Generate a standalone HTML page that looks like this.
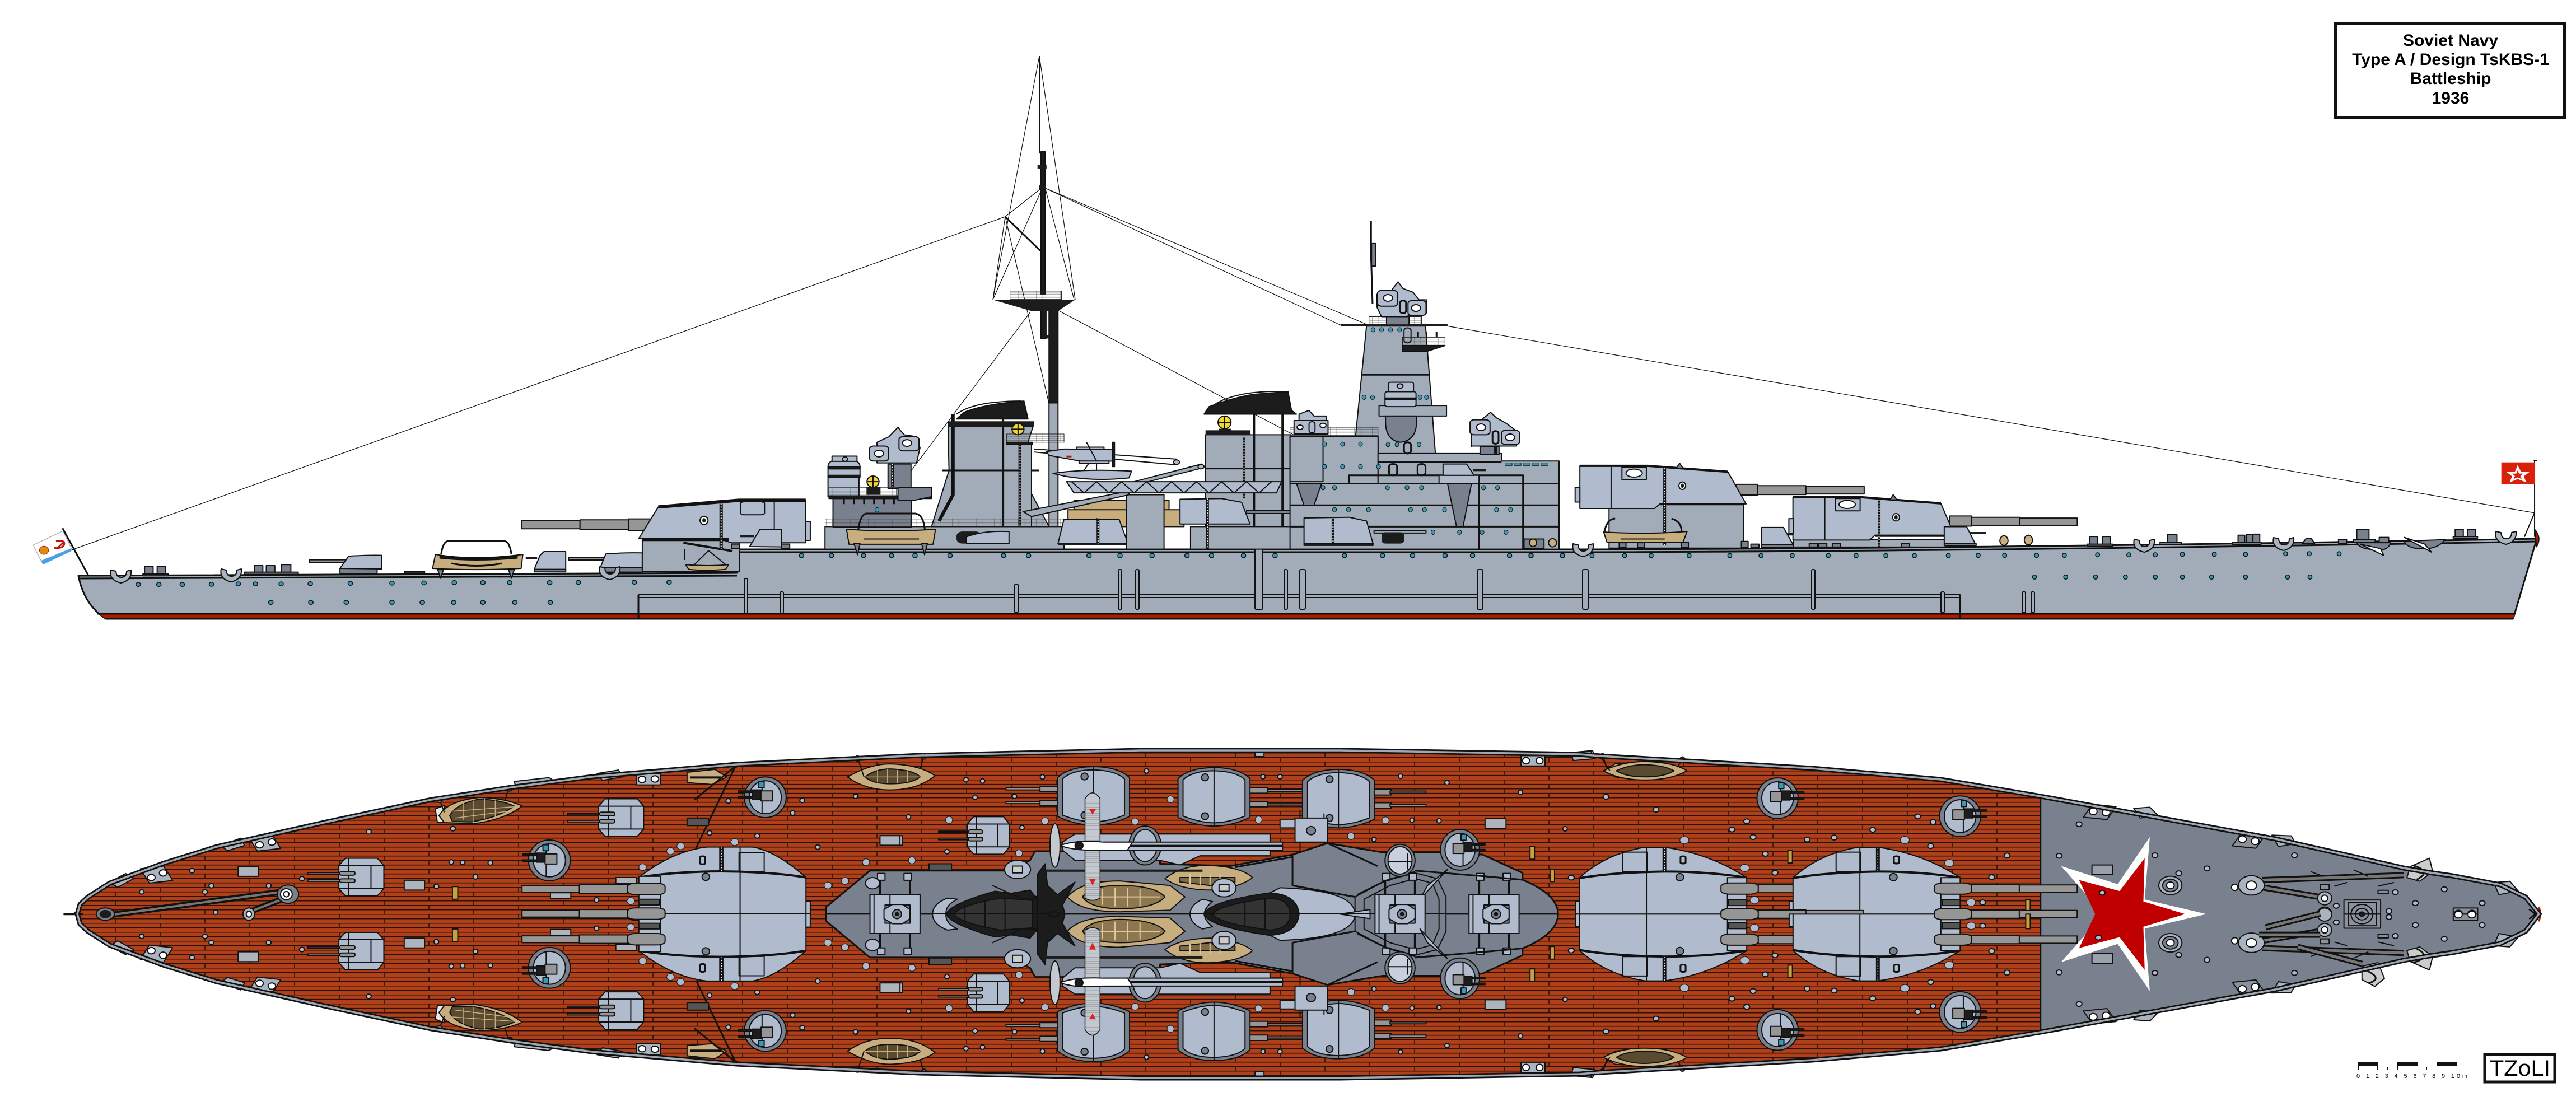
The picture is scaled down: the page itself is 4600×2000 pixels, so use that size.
<!DOCTYPE html>
<html><head><meta charset="utf-8"><title>Soviet Navy Type A / Design TsKBS-1 Battleship 1936</title>
<style>
html,body{margin:0;padding:0;background:#fff}
svg{display:block}
svg *{vector-effect:non-scaling-stroke}
.s{stroke:#111;stroke-width:2;stroke-linejoin:round}
.a{fill:#b0bccd}.h{fill:#a2acb8}.d{fill:#7a818e}.t{fill:#c8ad7f}.g{fill:#969696}.k{fill:#1c1c1c}.n{fill:none}.w{fill:#fff}.r{fill:#a81c00}
.l1{stroke-width:1.2}.l3{stroke-width:3}.l4{stroke-width:4}.l6{stroke-width:6}
text{stroke:none;font-family:"Liberation Sans",sans-serif;fill:#000}
</style></head><body>
<svg xmlns="http://www.w3.org/2000/svg" width="4600" height="2000" viewBox="0 0 4600 2000">
<defs>
<pattern id="pl" x="0" y="0" width="160" height="16" patternUnits="userSpaceOnUse">
<rect width="160" height="16" fill="#b0401a"/>
<path d="M0,.7H160M0,8.7H160M46,8.7V16M126,0V8.7" stroke="#2a1208" stroke-width="1.6" fill="none"/>
</pattern>
<pattern id="rl" x="0" y="0" width="12" height="10" patternUnits="userSpaceOnUse"><path d="M0,0H12M0,5H12M0,0V10" stroke="#333" stroke-width=".8" fill="none"/></pattern>
<pattern id="lad" x="0" y="0" width="8" height="9" patternUnits="userSpaceOnUse"><rect width="8" height="9" fill="#c4c9d0"/><path d="M0,0H8" stroke="#222" stroke-width="1" fill="none"/></pattern>
<clipPath id="hc"><path id="hp" d="M138,1632L143,1615 157,1602 196,1577 291,1542 387,1512 578,1469 770,1428 913,1406 1057,1387 1152,1379 1315,1365 1600,1351 1643,1349 2036,1340 2393,1340 2821,1347 2857,1350 3236,1372 3466,1392 3644,1422 4063,1498 4292,1550 4338,1558 4379,1564 4465,1580 4510,1602 4534,1632 4510,1663 4465,1685 4379,1701 4338,1707 4292,1715 4063,1767 3644,1843 3466,1873 3236,1893 2857,1915 2821,1918 2393,1925 2036,1925 1643,1916 1600,1914 1315,1900 1152,1886 1057,1878 913,1859 770,1837 578,1796 387,1753 291,1723 196,1688 157,1663 143,1650Z"/></clipPath>
<ellipse id="p1" rx="4" ry="11" fill="#3a9ab5" stroke="#111" stroke-width="1.5"/>
<ellipse id="p2" rx="4.5" ry="6" fill="#3a9ab5" stroke="#111" stroke-width="1.5"/>
<ellipse id="p3" rx="3" ry="8" fill="#3a9ab5" stroke="#111" stroke-width="1.5"/>
<path id="fl" class="s" fill="#aab4c0" d="M-18,-14Q-22,4 0,9Q20,4 18,-14L10,-12Q10,-1 0,-1Q-8,-1 -9,-12Z"/>
<ellipse id="c" rx="4.5" ry="10" fill="#b0bccd" class="s"/>
<ellipse id="b" rx="7" ry="15" fill="#b0bccd" stroke="#222" stroke-width="1.2"/>
<g id="sm"><path class="s a" d="M-42,-50L-30,-82H30L42,-50V50L30,82H-30L-42,50Z"/><path class="s n" d="M-42,-50H42M-42,50H42M18,-50V50M-24,-82V82"/><rect class="s g" x="-100" y="-19" width="65" height="7"/><rect class="s g" x="-100" y="12" width="65" height="7"/><rect class="s g" x="-40" y="-24" width="28" height="16" rx="4"/><rect class="s g" x="-40" y="8" width="28" height="16" rx="4"/></g>
<g id="rd"><ellipse class="s d" rx="39" ry="89"/><ellipse class="s a" rx="30" ry="72"/><path class="s n" d="M-6,-72V72"/><rect class="s k" x="-50" y="-28" width="32" height="7"/><rect class="s k" x="-50" y="-2" width="32" height="7"/><rect class="s k" x="-24" y="-32" width="18" height="40"/><rect class="s g" x="-8" y="-28" width="22" height="44"/><rect class="s" fill="#3a9ab5" x="-12" y="-68" width="10" height="26"/></g>
<g id="tw"><path class="s d" d="M-72,90V-80Q-50,-127 0,-128Q50,-127 72,-80V90Q35,128 0,128Q-35,128 -72,90Z"/><path class="s a" d="M-62,84V-74Q-45,-112 -2,-114Q45,-112 62,-74V84Q30,112 0,114Q-30,112 -62,84Z"/><path class="s n" d="M0,-114V114M0,-128V-114M0,114V128"/><ellipse class="s d" cx="-18" cy="-85" rx="7" ry="15"/><ellipse class="s d" cx="-18" cy="85" rx="7" ry="15"/></g>
<g id="cr"><rect class="s a" x="-50" y="-85" width="100" height="170"/><rect class="s a" x="-42" y="-85" width="32" height="170"/><rect class="s d" x="-20" y="-40" width="50" height="80"/><polygon class="s a" points="-22,-20 -5,-42 15,-42 30,-20 30,20 15,42 -5,42 -22,20"/><ellipse class="s d" cx="4" rx="9" ry="20"/><ellipse class="s k" cx="4" rx="3" ry="7"/><path class="s n l4" d="M-30,-165V-85M30,-165V-85"/><rect class="s a" x="-35" y="-178" width="15" height="30"/><rect class="s a" x="18" y="-178" width="15" height="30"/></g>
</defs>
<rect width="4600" height="2000" fill="#fff"/>

<!-- title -->
<rect x="4170" y="42" width="409" height="168" fill="#fff" stroke="#111" stroke-width="6"/>
<g font-weight="bold" font-size="30" text-anchor="middle">
<text x="4376" y="82" font-weight="bold">Soviet Navy</text>
<text x="4376" y="116" font-weight="bold">Type A / Design TsKBS-1</text>
<text x="4376" y="150" font-weight="bold">Battleship</text>
<text x="4376" y="185" font-weight="bold">1936</text>
</g>

<!-- rigging -->
<g class="s l1 n" fill="none">
<path d="M1795,387L128,982M1862,334L2440,579M1862,334L2395,581M2583,582L4527,916M1856,100L1773,535M1856,100L1920,535M1862,334L1795,387L1773,535M1866,334L1918,535M1862,334L1773,535M1795,387L1873,720M1840,557L1605,870M1889,554L2311,777"/>
</g>
<path class="s l3 n" d="M1795,387L1858,448"/>

<!-- hull -->
<path class="s l3" fill="#a2acb8" d="M140,1028L1316,1023V981L2820,981Q3500,980 4530,962L4488,1104L189,1105Q150,1080 140,1028Z"/>
<polygon class="r" points="176,1096 4491,1096 4488,1105 189,1105"/>
<path class="s l3 n" d="M174,1096H4491M189,1105H4488"/>
<path class="s l3 n" d="M140,1033L1316,1028M1316,986H2820Q3500,985 4530,967"/>
<path stroke="#111" stroke-width="1" fill="none" d="M140,1029L1316,1024"/>
<rect class="s" fill="#a2acb8" x="1140" y="1062" width="2360" height="5"/>
<path class="s l3 n" d="M1140,1062V1105M3500,1062V1105"/>
<g class="s h">
<rect x="1329" y="1033" width="6" height="62" rx="2"/><rect x="1393" y="1057" width="6" height="38" rx="2"/><rect x="1812" y="1043" width="6" height="51" rx="2"/>
<rect x="1997" y="1017" width="6" height="71" rx="2"/><rect x="2028" y="1017" width="6" height="71" rx="2"/><rect x="2241" y="974" width="14" height="114" rx="2"/>
<rect x="2293" y="1017" width="6" height="71" rx="2"/><rect x="2321" y="1017" width="10" height="71" rx="2"/><rect x="2638" y="1017" width="10" height="71" rx="2"/>
<rect x="2826" y="1017" width="10" height="71" rx="2"/><rect x="3235" y="1017" width="6" height="71" rx="2"/><rect x="3466" y="1057" width="6" height="37" rx="2"/><rect x="3611" y="1057" width="6" height="37" rx="2"/><rect x="3627" y="1057" width="6" height="37" rx="2"/>
</g>

<!-- Z1: stern side -->
<g transform="translate(0,700) scale(1.0204,.3333)">
<g id="pz1">
<use href="#p1" x="242" y="1031"/><use href="#p1" x="278" y="1031"/><use href="#p1" x="319" y="1031"/><use href="#p1" x="370" y="1030"/><use href="#p1" x="417" y="1028"/><use href="#p1" x="447" y="1028"/><use href="#p1" x="492" y="1028"/><use href="#p1" x="543" y="1027"/><use href="#p1" x="613" y="1025"/><use href="#p1" x="686" y="1024"/><use href="#p1" x="742" y="1023"/><use href="#p1" x="795" y="1021"/><use href="#p1" x="845" y="1021"/><use href="#p1" x="892" y="1021"/><use href="#p1" x="962" y="1021"/><use href="#p1" x="1012" y="1020"/><use href="#p1" x="1110" y="1019"/><use href="#p1" x="1171" y="1019"/>
<use href="#p1" x="474" y="1127"/><use href="#p1" x="544" y="1127"/><use href="#p1" x="606" y="1127"/><use href="#p1" x="686" y="1127"/><use href="#p1" x="739" y="1127"/><use href="#p1" x="794" y="1127"/><use href="#p1" x="845" y="1127"/><use href="#p1" x="901" y="1127"/><use href="#p1" x="963" y="1127"/>
</g>
<!-- flag -->
<polygon class="w" stroke="#999" stroke-width="1" points="58,820 110,745 125,838 72,905"/>
<polygon fill="#4aa0e8" points="72,905 125,838 125,852 75,925"/>
<path stroke="#c01010" stroke-width="3" fill="none" d="M98,800Q115,790 112,820Q108,840 95,835M100,838L113,800"/>
<ellipse fill="#e08a10" stroke="#b02010" stroke-width="1" cx="77" cy="848" rx="8" ry="22"/>
<path class="s l3 n" d="M110,733L155,985"/><circle r="3" cx="110" cy="733" fill="#111"/>
<!-- stern fittings -->
<g class="s d"><rect x="253" y="935" width="15" height="40"/><rect x="275" y="935" width="15" height="40"/><rect x="250" y="975" width="45" height="10"/><rect x="445" y="930" width="15" height="40"/><rect x="466" y="930" width="15" height="40"/><rect x="492" y="925" width="17" height="45"/><rect x="428" y="965" width="94" height="12"/><rect x="708" y="960" width="35" height="10"/><rect x="1115" y="912" width="14" height="40"/><rect x="1137" y="912" width="14" height="40"/><rect x="1112" y="950" width="42" height="12"/><rect x="1168" y="932" width="12" height="25"/><rect x="1185" y="932" width="12" height="25"/></g>
<!-- small turret 1 -->
<rect class="s g" x="541" y="899" width="65" height="13"/>
<rect class="s d" x="595" y="945" width="65" height="27"/>
<path class="s a" d="M595,945L610,880Q640,873 668,875V948Z"/>
<!-- boat 1 -->
<path class="s n l3" d="M772,870Q775,800 785,798H882Q892,800 895,870"/>
<path class="s t" d="M757,945L762,870Q830,905 915,870L912,945Q835,958 757,945Z"/>
<path class="s k" d="M770,880Q830,905 905,880V890Q830,910 770,890Z"/>
<path class="s n l3" d="M790,918Q835,945 878,918"/>
<path class="s d" d="M766,952L771,998L776,952ZM890,952L895,998L900,952Z"/>
<!-- AA -->
<path class="s a" d="M935,950L945,875L952,855L990,855V960Z"/>
<rect class="s d" x="935" y="950" width="55" height="14"/>
<rect class="k" x="920" y="885" width="20" height="10"/>
<!-- small turret 2 -->
<rect class="s g" x="995" y="887" width="65" height="13"/>
<path class="s a" d="M1050,945L1060,868Q1090,860 1124,862V945Z"/>
<rect class="s d" x="1050" y="940" width="74" height="25"/>
<!-- barbette A -->
<rect class="s h" x="1124" y="790" width="170" height="170"/>
<path class="s n l4" d="M1196,808L1282,852"/>
<path class="s t" d="M1200,925Q1240,935 1275,925L1270,950Q1235,960 1205,950Z"/>
<path class="s n" d="M1215,925L1240,850L1270,925M1198,840V900"/>
<!-- main turret A -->
<rect class="s g" x="913" y="690" width="102" height="43"/><rect class="s g" x="1015" y="685" width="85" height="52"/><rect class="s g" x="1100" y="680" width="40" height="62"/>
<path class="s a" d="M1118,785L1152,616L1293,580H1410V808H1280L1258,785Z"/>
<path class="s n l6" d="M1152,616L1293,580H1410"/><path class="s n l6" d="M1124,790H1275"/>
<path class="s n" d="M1355,585V808"/><rect class="s n" x="1296" y="588" width="42" height="70" rx="8"/>
<ellipse class="s w" cx="1232" cy="688" rx="7" ry="22"/><ellipse class="k" cx="1232" cy="688" rx="3" ry="12"/>
<path stroke="#111" stroke-width="6" d="M1262,598V840"/><path stroke="#fff" stroke-width="2" stroke-dasharray="2 3" d="M1262,598V840"/>
<rect class="s a" x="1410" y="695" width="8" height="100"/>
<path class="s a" d="M1312,828L1330,735H1368V830Z"/><rect class="k" x="1295" y="768" width="25" height="10"/>
<rect class="s d" x="1280" y="815" width="14" height="22"/><rect class="s d" x="1368" y="815" width="14" height="22"/>
</g>

<!-- Z2: midship side -->
<g transform="translate(1400,80) scale(.8929,.6696)">
<use href="#p2" x="35" y="1362"/><use href="#p2" x="95" y="1362"/><use href="#p2" x="159" y="1362"/><use href="#p2" x="215" y="1362"/><use href="#p2" x="262" y="1362"/><use href="#p2" x="332" y="1362"/><use href="#p2" x="439" y="1362"/><use href="#p2" x="489" y="1362"/><use href="#p2" x="610" y="1362"/><use href="#p2" x="672" y="1362"/><use href="#p2" x="736" y="1362"/><use href="#p2" x="806" y="1362"/><use href="#p2" x="855" y="1362"/><use href="#p2" x="919" y="1362"/><use href="#p2" x="982" y="1362"/><use href="#p2" x="1121" y="1362"/><use href="#p2" x="1197" y="1362"/><use href="#p2" x="1257" y="1362"/><use href="#p2" x="1322" y="1362"/><use href="#p2" x="1377" y="1362"/><use href="#p2" x="1451" y="1362"/><use href="#p2" x="1494" y="1362"/><use href="#p2" x="1557" y="1362"/>
<!-- mast -->
<rect class="s k" x="530" y="700" width="18" height="255"/>
<rect class="s h" x="530" y="955" width="18" height="335"/>
<path stroke="#111" stroke-width="2" d="M511,30V290"/>
<rect class="s k" x="514" y="285" width="8" height="380"/><rect class="k" x="507" y="320" width="18" height="10"/><rect class="k" x="510" y="374" width="14" height="10"/>
<rect class="s k" x="514" y="700" width="10" height="83"/><rect class="k" x="514" y="775" width="34" height="8"/>
<rect fill="url(#rl)" stroke="#222" stroke-width="1" x="452" y="657" width="103" height="22"/>
<polygon class="k" points="418,680 582,680 548,710 495,710"/>
<!-- aft block -->
<rect class="s h" x="82" y="1285" width="478" height="60"/>
<rect class="s d" x="98" y="1210" width="157" height="76"/>
<path stroke="#111" stroke-width="3" fill="none" d="M120,1210V1225M140,1210V1225M160,1210V1225M180,1210V1225M200,1210V1225M220,1210V1225"/>
<rect class="s a" x="88" y="1150" width="62" height="55"/>
<path class="s a" d="M88,1125Q88,1112 100,1108H140Q152,1112 152,1125V1150H88Z"/>
<rect class="s a" x="96" y="1097" width="50" height="14"/>
<path class="s k" d="M90,1125H152V1131H90ZM90,1148H152V1154H90Z"/>
<ellipse class="s n" cx="122" cy="1105" rx="5" ry="6"/>
<rect class="s d" x="208" y="1118" width="46" height="65"/>
<path stroke="#111" stroke-width="5" d="M217,1118V1180"/><path stroke="#fff" stroke-width="2" stroke-dasharray="2 3" d="M217,1118V1180"/>
<path class="s a" d="M186,1115V1060L210,1045L228,1020L240,1040L265,1045L272,1075L265,1115Z"/>
<rect class="s a" x="171" y="1070" width="38" height="40" rx="8"/><circle class="s w" cx="190" cy="1090" r="9"/>
<rect class="s a" x="230" y="1045" width="40" height="38" rx="8"/><circle class="s w" cx="246" cy="1062" r="9"/>
<rect fill="url(#rl)" stroke="#222" stroke-width="1" x="90" y="1180" width="135" height="25"/>
<rect class="s k" x="90" y="1203" width="205" height="7"/>
<path class="s d" d="M228,1180H295V1205L260,1215H228Z"/>
<ellipse class="s" fill="#f0d830" cx="178" cy="1165" rx="12" ry="15"/><path class="s n" d="M178,1150V1180M166,1165H190"/><rect class="k" x="165" y="1180" width="28" height="20"/>
<!-- funnel 1 -->
<path class="s h" d="M295,1285L330,1135L328,1018H498L470,1135L530,1285Z"/>
<path class="s n l3" d="M316,1135H510"/>
<path class="s n l6" d="M338,985V1200L310,1270"/>
<path class="s n l4" d="M438,965V1285"/>
<rect class="k" x="328" y="1004" width="172" height="14"/>
<path class="s k" d="M345,998L360,980Q400,958 480,950L488,998Z"/>
<path class="s n" d="M345,985Q380,950 475,950"/>
<rect class="s h" x="470" y="1063" width="25" height="222"/>
<path stroke="#111" stroke-width="5" d="M472,1063V1285"/><path stroke="#fff" stroke-width="2" stroke-dasharray="2 3" d="M472,1063V1285"/>
<rect fill="url(#rl)" stroke="#222" stroke-width="1" x="445" y="1038" width="115" height="22"/>
<rect class="s k" x="445" y="1060" width="52" height="5"/>
<ellipse class="s" fill="#f0d830" cx="468" cy="1025" rx="12" ry="15"/><path class="s n" d="M468,1010V1040M456,1025H480"/>
<rect fill="url(#rl)" x="82" y="1263" width="480" height="22"/>
<!-- boat -->
<path class="s n l3" d="M148,1300Q152,1252 165,1250H262Q280,1252 282,1300"/>
<path class="s t" d="M125,1292Q210,1300 303,1292L298,1332H130Z"/>
<path class="s n" d="M160,1318H270"/>
<path class="s d" d="M140,1330L147,1360L152,1330ZM275,1330L281,1360L287,1330Z"/>
<!-- mid items -->
<rect class="k" x="345" y="1298" width="50" height="32" rx="12"/>
<path class="s a" d="M365,1330V1312Q400,1295 450,1298V1330Z"/>
<rect class="s t" x="580" y="1215" width="190" height="30"/>
<rect class="s t" x="568" y="1240" width="232" height="45"/>
<!-- turret AA mid -->
<path class="s a" d="M548,1330L560,1265H670L688,1330Z"/>
<path stroke="#111" stroke-width="5" d="M628,1262V1330"/><path stroke="#fff" stroke-width="2" stroke-dasharray="2 3" d="M628,1262V1330"/>
<rect class="k" x="548" y="1330" width="140" height="5"/>
<!-- funnel 2 -->
<rect class="s h" x="843" y="1040" width="170" height="245"/>
<path class="s n l3" d="M843,1130H1013"/><path class="s n l4" d="M940,935V1285M997,965V1285"/>
<rect class="k" x="843" y="1028" width="90" height="12"/>
<path class="s k" d="M840,985L850,965Q900,940 940,932L1008,925L1015,975L1025,985Z"/>
<path class="s n" d="M855,965Q900,920 1005,925"/>
<ellipse class="s" fill="#f0d830" cx="881" cy="1007" rx="13" ry="17"/><path class="s n" d="M881,990V1024M868,1007H894"/><rect class="k" x="870" y="1024" width="24" height="15"/>
<rect class="s h" x="813" y="1285" width="220" height="60"/>
<rect class="s h" x="685" y="1200" width="75" height="145"/>
<path stroke="#111" stroke-width="5" d="M847,1210V1345"/><path stroke="#fff" stroke-width="2" stroke-dasharray="2 3" d="M847,1210V1345"/>
<path stroke="#111" stroke-width="5" d="M920,1045V1210"/><path stroke="#fff" stroke-width="2" stroke-dasharray="2 3" d="M920,1045V1210"/>
<path class="s a" d="M792,1212L875,1210L915,1220L932,1278H792Z"/><rect class="s d" x="925" y="1242" width="110" height="8"/>
<path stroke="#111" stroke-width="5" d="M847,1210V1280"/><path stroke="#fff" stroke-width="2" stroke-dasharray="2 3" d="M847,1210V1280"/>
<!-- crane -->
<path class="s h" d="M478,1245L690,1190V1200L495,1258Z"/><path class="s h" d="M700,1165L835,1118L838,1128L720,1168Z"/>
<path class="s a" d="M565,1165H995L985,1195H580Z"/>
<path class="s n" d="M575,1165L600,1195L625,1165L650,1195L675,1165L700,1195L725,1165L750,1195L775,1165L800,1195L825,1165L850,1195L875,1165L900,1195L925,1165L950,1195L975,1165"/>
<circle class="s a" cx="834" cy="1125" r="6"/>
<!-- plane -->
<path class="s n" d="M500,1078L785,1105M500,1086L785,1120"/><circle class="s a" cx="785" cy="1113" r="6"/>
<path class="s a" d="M525,1085L560,1078L660,1080V1110L600,1112L530,1095Z"/>
<path stroke="#c01010" stroke-width="3" d="M565,1098H575"/>
<path class="s a" d="M585,1073H640V1079H585ZM590,1110H650V1116H590Z"/>
<path class="s k" d="M657,1060H661V1125H657Z"/>
<path class="s n" d="M610,1115L600,1135M625,1115L625,1135M605,1060L625,1110"/>
<path class="s a" d="M538,1143Q600,1130 695,1137L690,1155Q620,1165 560,1150Z"/>
<!-- bridge structure -->
<path class="s h" d="M1143,1045L1165,750H1283L1303,1095H1188V1045Z"/>
<rect class="k" x="1113" y="745" width="214" height="5"/>
<path class="s n l3" d="M1157,880H1290"/>
<rect class="s h" x="1012" y="1045" width="176" height="125"/>
<path class="s h" d="M1012,1170H1550V1110H1435V1090H1188V1170Z"/>
<rect class="s h" x="1012" y="1170" width="538" height="175"/>
<path class="s n l3" d="M1012,1228H1550M1130,1170V1148H1478V1170M1012,1285H1550M1188,1112H1435M1390,1170V1345M1478,1148V1345"/>
<rect class="s h" x="1012" y="1045" width="66" height="120"/>
<path class="s d" d="M1025,1170H1075L1060,1228H1040Z"/>
<path class="s d" d="M1327,1170H1375L1358,1285H1345Z"/>
<rect class="s a" x="1310" y="1148" width="80" height="22"/>
<path class="s a" d="M1318,1148V1118H1365L1380,1148Z"/><rect class="k" x="1378" y="1132" width="26" height="5"/>
<g fill="#3a9ab5" stroke="#111" stroke-width="1"><rect x="1442" y="1115" width="14" height="7"/><rect x="1460" y="1115" width="14" height="7"/><rect x="1478" y="1115" width="14" height="7"/><rect x="1496" y="1115" width="14" height="7"/><rect x="1514" y="1115" width="14" height="7"/></g>
<rect class="s h" x="1190" y="962" width="135" height="28"/>
<path class="s d" d="M1203,990V1005Q1203,1055 1233,1060Q1265,1055 1265,1005V990Z"/>
<rect class="s a" x="1202" y="925" width="62" height="40" rx="5"/><rect class="s a" x="1209" y="900" width="50" height="25" rx="4"/><rect class="s k" x="1202" y="942" width="62" height="4"/><ellipse class="s n" cx="1232" cy="910" rx="6" ry="6"/>
<rect class="s n l3" x="1210" y="1118" width="16" height="30" rx="7"/><rect class="s n l3" x="1267" y="1118" width="16" height="30" rx="7"/><rect class="s n l3" x="1240" y="1060" width="14" height="30" rx="7"/>
<path class="s n l3" d="M1174,470V560L1177,690"/>
<rect class="s d" x="1175" y="530" width="8" height="60"/>
<rect fill="url(#rl)" stroke="#222" stroke-width="1" x="1170" y="725" width="105" height="20"/>
<rect class="s d" x="1205" y="725" width="45" height="22"/>
<path class="s a" d="M1186,700V665L1215,655L1228,632L1238,650L1258,660L1270,680H1285V715L1240,725H1195Z"/>
<rect class="s a" x="1187" y="655" width="40" height="42" rx="8"/><circle class="s w" cx="1208" cy="675" r="9"/>
<rect class="s a" x="1248" y="682" width="36" height="40" rx="8"/><circle class="s w" cx="1264" cy="702" r="9"/>
<rect class="s n l3" x="1232" y="682" width="12" height="34" rx="6"/>
<rect class="s h" x="1240" y="755" width="14" height="40" rx="7"/>
<rect fill="url(#rl)" stroke="#222" stroke-width="1" x="1237" y="780" width="85" height="22"/><path class="s k" d="M1237,802H1322L1285,818H1237Z"/>
<path class="s n l3" d="M1268,765V780M1285,765V780M1305,765V780"/>
<rect fill="url(#rl)" stroke="#222" stroke-width="1" x="1012" y="1020" width="176" height="22"/>
<g class="s a"><rect x="1020" y="1002" width="68" height="36"/><path d="M1030,1002V985L1050,975L1060,990H1085V1002Z"/></g><circle class="s w" cx="1032" cy="1020" r="6"/><circle class="s w" cx="1078" cy="1015" r="6"/><rect class="s n" x="1050" y="1005" width="12" height="30" rx="6"/>
<rect class="s d" x="1392" y="1072" width="38" height="20"/><path stroke="#111" stroke-width="5" d="M1423,1065V1090"/>
<path class="s a" d="M1375,1072V1030L1395,1000L1413,980L1425,995L1445,1010L1465,1030V1070H1375Z"/>
<rect class="s a" x="1372" y="1000" width="40" height="40" rx="8"/><circle class="s w" cx="1394" cy="1020" r="9"/>
<rect class="s a" x="1435" y="1028" width="36" height="38" rx="8"/><circle class="s w" cx="1452" cy="1047" r="9"/>
<rect class="s n l3" x="1417" y="1030" width="12" height="34" rx="6"/>
<path class="s a" d="M1040,1330V1262L1130,1260L1165,1270L1178,1330Z"/>
<path stroke="#111" stroke-width="5" d="M1098,1262V1330"/><path stroke="#fff" stroke-width="2" stroke-dasharray="2 3" d="M1098,1262V1330"/>
<rect class="s k" x="1040" y="1330" width="138" height="5"/>
<rect class="s h" x="1180" y="1296" width="104" height="6"/><rect class="k" x="1195" y="1300" width="45" height="30" rx="8"/>
<rect class="s d" x="1480" y="1318" width="40" height="25"/><ellipse class="s t" cx="1498" cy="1328" rx="7" ry="10"/><ellipse class="s t" cx="1537" cy="1328" rx="8" ry="11"/>
<g fill="#3a9ab5" stroke="#111"><ellipse cx="1081" cy="1065" rx="4" ry="6"/><ellipse cx="1117" cy="1065" rx="4" ry="6"/><ellipse cx="1153" cy="1065" rx="4" ry="6"/><ellipse cx="1081" cy="1125" rx="4" ry="6"/><ellipse cx="1117" cy="1125" rx="4" ry="6"/><ellipse cx="1153" cy="1125" rx="4" ry="6"/><ellipse cx="1189" cy="1125" rx="4" ry="6"/><ellipse cx="1078" cy="1181" rx="4" ry="6"/><ellipse cx="1101" cy="1181" rx="4" ry="6"/><ellipse cx="1207" cy="1181" rx="4" ry="6"/><ellipse cx="1246" cy="1181" rx="4" ry="6"/><ellipse cx="1275" cy="1181" rx="4" ry="6"/><ellipse cx="1399" cy="1181" rx="4" ry="6"/><ellipse cx="1427" cy="1181" rx="4" ry="6"/><ellipse cx="1101" cy="1240" rx="4" ry="6"/><ellipse cx="1129" cy="1240" rx="4" ry="6"/><ellipse cx="1169" cy="1240" rx="4" ry="6"/><ellipse cx="1253" cy="1240" rx="4" ry="6"/><ellipse cx="1281" cy="1240" rx="4" ry="6"/><ellipse cx="1321" cy="1240" rx="4" ry="6"/><ellipse cx="1425" cy="1240" rx="4" ry="6"/><ellipse cx="1453" cy="1240" rx="4" ry="6"/><ellipse cx="1298" cy="1300" rx="4" ry="6"/><ellipse cx="1351" cy="1300" rx="4" ry="6"/><ellipse cx="1396" cy="1300" rx="4" ry="6"/><ellipse cx="1444" cy="1300" rx="4" ry="6"/><ellipse cx="1178" cy="760" rx="4" ry="6"/><ellipse cx="1195" cy="760" rx="4" ry="6"/><ellipse cx="1213" cy="760" rx="4" ry="6"/><ellipse cx="1231" cy="760" rx="4" ry="6"/><ellipse cx="1160" cy="940" rx="4" ry="6"/><ellipse cx="1177" cy="940" rx="4" ry="6"/><ellipse cx="1272" cy="940" rx="4" ry="6"/><ellipse cx="1285" cy="940" rx="4" ry="6"/><ellipse cx="1208" cy="1066" rx="4" ry="6"/><ellipse cx="1226" cy="1066" rx="4" ry="6"/><ellipse cx="1270" cy="1066" rx="4" ry="6"/><ellipse cx="186" cy="1240" rx="4" ry="6"/></g>
</g>

<!-- Z3: bow side -->
<g transform="translate(2700,400) scale(1.2117,.4783)">
<use href="#p3" x="28" y="1238"/><use href="#p3" x="74" y="1238"/><use href="#p3" x="118" y="1238"/><use href="#p3" x="166" y="1238"/><use href="#p3" x="205" y="1238"/><use href="#p3" x="261" y="1238"/><use href="#p3" x="321" y="1238"/><use href="#p3" x="367" y="1238"/><use href="#p3" x="413" y="1238"/><use href="#p3" x="466" y="1238"/><use href="#p3" x="507" y="1238"/><use href="#p3" x="551" y="1238"/><use href="#p3" x="593" y="1238"/><use href="#p3" x="643" y="1238"/><use href="#p3" x="687" y="1237"/><use href="#p3" x="726" y="1237"/><use href="#p3" x="773" y="1237"/><use href="#p3" x="814" y="1237"/><use href="#p3" x="863" y="1235"/><use href="#p3" x="909" y="1235"/><use href="#p3" x="948" y="1235"/><use href="#p3" x="988" y="1233"/><use href="#p3" x="1035" y="1233"/><use href="#p3" x="1081" y="1233"/><use href="#p3" x="1140" y="1231"/><use href="#p3" x="1175" y="1231"/><use href="#p3" x="1219" y="1231"/>
<use href="#p3" x="770" y="1318"/><use href="#p3" x="816" y="1318"/><use href="#p3" x="860" y="1318"/><use href="#p3" x="904" y="1318"/><use href="#p3" x="948" y="1318"/><use href="#p3" x="988" y="1318"/><use href="#p3" x="1031" y="1318"/><use href="#p3" x="1081" y="1318"/><use href="#p3" x="1143" y="1318"/><use href="#p3" x="1176" y="1318"/>
<!-- barbette -->
<rect class="s h" x="143" y="1045" width="198" height="165"/>
<!-- turret C -->
<rect class="s g" x="433" y="980" width="86" height="28"/><rect class="s g" x="362" y="977" width="71" height="33"/><rect class="s g" x="330" y="972" width="32" height="40"/>
<path class="s a" d="M100,903H200L318,925L345,1045H218L210,1062H100Z"/>
<path class="s n l4" d="M100,903H200L318,925"/><path class="s n l4" d="M218,1046H342"/><path class="s n" d="M146,905V1062"/>
<rect class="s n" x="162" y="908" width="36" height="46"/><ellipse class="s w" cx="180" cy="930" rx="12" ry="15"/>
<ellipse class="s w" cx="251" cy="977" rx="5" ry="14"/><ellipse class="k" cx="251" cy="977" rx="2.500" ry="8"/>
<path stroke="#111" stroke-width="5" d="M225,912V1200"/><path stroke="#fff" stroke-width="2" stroke-dasharray="2 3" d="M225,912V1200"/>
<rect class="s a" x="93" y="983" width="7" height="55"/>
<path class="s d" d="M242,912L247,893L252,912Z"/>
<!-- boat -->
<path class="s n l3" d="M136,1150Q140,1100 152,1100M235,1100Q250,1110 250,1150"/>
<path class="s t" d="M135,1150Q195,1160 258,1148L252,1188H140Z"/>
<path class="s n" d="M160,1176H225"/>
<g class="s d"><rect x="158" y="1190" width="10" height="18"/><rect x="185" y="1190" width="10" height="18"/><rect x="250" y="1188" width="10" height="20"/><rect x="338" y="1185" width="10" height="22"/><rect x="352" y="1195" width="12" height="12"/></g>
<!-- AA -->
<path class="s a" d="M368,1133H400L415,1200H368Z"/><rect class="s d" x="368" y="1198" width="47" height="10"/><rect class="k" x="405" y="1155" width="25" height="8"/>
<!-- turret D -->
<rect class="s g" x="748" y="1098" width="85" height="27"/><rect class="s g" x="677" y="1095" width="71" height="32"/><rect class="s g" x="645" y="1090" width="32" height="38"/>
<rect class="s h" x="415" y="1178" width="225" height="28"/>
<path class="s a" d="M414,1020H515L632,1043L652,1162H535L527,1180H414Z"/>
<path class="s n l4" d="M414,1020H515L632,1043"/><path class="s n l4" d="M535,1164H650"/><path class="s n" d="M461,1022V1180"/>
<rect class="s n" x="477" y="1025" width="36" height="46"/><ellipse class="s w" cx="494" cy="1047" rx="12" ry="15"/>
<ellipse class="s w" cx="566" cy="1095" rx="5" ry="14"/><ellipse class="k" cx="566" cy="1095" rx="2.500" ry="8"/>
<path stroke="#111" stroke-width="5" d="M541,1030V1205"/><path stroke="#fff" stroke-width="2" stroke-dasharray="2 3" d="M541,1030V1205"/>
<rect class="s a" x="408" y="1100" width="7" height="55"/>
<path class="s d" d="M557,1030L562,1010L567,1030Z"/>
<g class="s d"><rect x="438" y="1192" width="12" height="14"/><rect x="452" y="1192" width="12" height="14"/><rect x="472" y="1192" width="12" height="14"/><rect x="574" y="1192" width="12" height="14"/></g>
<path class="s a" d="M637,1130H670L683,1195H637Z"/><rect class="s d" x="637" y="1193" width="47" height="8"/><rect class="k" x="675" y="1150" width="24" height="7"/>
<ellipse class="s t" cx="725" cy="1182" rx="6" ry="18"/><ellipse class="s t" cx="761" cy="1180" rx="6" ry="18"/>
<!-- fore deck fittings -->
<g class="s d"><rect x="851" y="1167" width="12" height="30"/><rect x="870" y="1167" width="12" height="30"/><rect x="848" y="1195" width="37" height="8"/><rect x="966" y="1160" width="14" height="30"/><rect x="955" y="1188" width="32" height="8"/><rect x="1070" y="1162" width="10" height="30"/><rect x="1082" y="1160" width="10" height="30"/><rect x="1092" y="1158" width="10" height="32"/><rect x="1062" y="1188" width="42" height="8"/><path d="M1165,1192L1170,1175H1178L1183,1192Z"/><rect x="1218" y="1177" width="12" height="15"/><rect x="1245" y="1140" width="18" height="40"/><rect x="1240" y="1178" width="32" height="10"/><rect x="1278" y="1170" width="14" height="20"/><rect x="1390" y="1140" width="12" height="30"/><rect x="1408" y="1140" width="12" height="30"/><rect x="1387" y="1167" width="36" height="6"/></g>
<!-- anchors -->
<path class="s d" d="M1245,1190H1295Q1290,1225 1270,1215Q1250,1215 1245,1190Z"/><path class="s w" d="M1250,1195L1285,1238L1280,1212Z"/>
<path class="s d" d="M1315,1185L1375,1178Q1365,1215 1340,1212Q1320,1212 1315,1185Z"/><path class="s w" d="M1315,1170L1355,1225L1345,1195Z"/>
<!-- bow flag -->
<path class="s r" d="M1507,1140Q1518,1170 1510,1205Z"/>
<path class="s n" d="M1507,885V1168M1507,1078L1492,1168"/><circle cx="1508" cy="883" r="2.500" fill="#111"/>
<rect x="1458" y="890" width="49" height="82" fill="#d8200a"/>
<polygon class="w" points="1482,900 1487,925 1500,925 1491,942 1495,965 1482,952 1470,965 1474,942 1465,925 1478,925"/>
<polygon fill="#d8200a" points="1482,920 1484,932 1490,932 1486,941 1488,952 1482,946 1476,952 1478,941 1474,932 1480,932"/>
</g>

<use href="#fl" x="216" y="1032"/><use href="#fl" x="413" y="1030"/><use href="#fl" x="1089" y="1026"/>
<use href="#fl" x="2827" y="985"/><use href="#fl" x="3829" y="977"/><use href="#fl" x="4078" y="974"/><use href="#fl" x="4475" y="963"/>

<!-- PLAN VIEW -->
<rect x="130" y="1330" width="3514" height="610" fill="url(#pl)" clip-path="url(#hc)"/>
<rect x="3644" y="1330" width="900" height="610" fill="#7a818e" clip-path="url(#hc)"/>
<path d="M3644,1422V1843" stroke="#111" stroke-width="2.500" fill="none"/>
<g id="half">
<!-- Z4 -->
<g transform="translate(100,1320) scale(.9566,.4082)">
<g class="s a"><rect x="165" y="560" width="45" height="65" transform="rotate(-15 187 592)" fill="#aab4c0"/><rect x="368" y="430" width="45" height="55" transform="rotate(-15 390 457)" fill="#aab4c0"/><rect x="1083" y="150" width="45" height="50" fill="#aab4c0"/></g>
<g class="s w"><ellipse cx="178" cy="605" rx="7" ry="14"/><ellipse cx="200" cy="585" rx="7" ry="14"/><ellipse cx="380" cy="462" rx="7" ry="14"/><ellipse cx="403" cy="450" rx="7" ry="14"/><ellipse cx="1094" cy="176" rx="7" ry="14"/><ellipse cx="1118" cy="174" rx="7" ry="14"/></g>
<g class="s" fill="#aab4c0"><path d="M100,625L130,588L145,610L115,648Z"/><path d="M307,465L345,433L352,465L320,488Z"/><path d="M1010,150L1050,135L1057,165L1020,180Z"/><path d="M855,185L920,168L930,182L860,215Z"/></g>
<!-- boat -->
<path class="s" fill="#e8e8e8" d="M708,305L725,290V365L712,365Z"/>
<path class="s t" d="M715,335Q730,270 790,255Q840,258 870,292Q840,350 780,370L725,365Z"/>
<path class="s" fill="#5a4a30" d="M735,335Q745,285 790,262Q830,265 855,292Q830,340 775,362L740,360Z"/>
<path stroke="#c8ad7f" stroke-width="1.500" fill="none" d="M760,275V355M780,265V360M800,262V350M820,268V340M740,315L860,295M745,345L845,315"/>
<path class="s n" d="M715,260L725,320M845,210L838,270"/>
<ellipse class="s d" cx="716" cy="265" rx="5" ry="12"/><ellipse class="s d" cx="847" cy="215" rx="5" ry="12"/>
<!-- small boat -->
<path class="s t" d="M1178,145L1230,132L1252,165L1225,198L1178,190Z"/><path class="s" fill="#7c6a48" d="M1185,165H1240V170H1185Z"/>
<path class="s n l3" d="M1270,110L1195,475M1265,125L1192,265"/>
<ellipse class="s d" cx="1268" cy="115" rx="4" ry="9"/>
<!-- twins -->
<use href="#sm" x="1055" y="343"/><use href="#sm" x="570" y="603"/>
<use href="#rd" x="921" y="530"/><use href="#rd" x="1324" y="254"/>
<!-- rectangles -->
<g class="s" fill="#aeb4bc"><rect x="340" y="557" width="38" height="43"/><rect x="650" y="617" width="38" height="43"/><rect x="1540" y="422" width="40" height="42"/><rect x="923" y="672" width="38" height="26"/><rect x="1045" y="605" width="38" height="27"/></g>
<rect class="s" fill="#555" x="1178" y="345" width="40" height="33"/>
<rect class="s" fill="#c8a040" x="740" y="645" width="10" height="55"/>
<!-- main turret -->
<rect class="s a" x="1398" y="708" width="10" height="58"/>
<path class="s a" d="M1088,766V605Q1150,490 1215,472H1300Q1345,490 1400,605V766Z"/>
<path class="s n l4" d="M1088,605Q1150,580 1240,578Q1340,580 1400,605"/><path class="s n" d="M1277,472V766"/>
<rect class="s n" x="1275" y="495" width="47" height="85"/><rect fill="#111" x="1238" y="472" width="8" height="106"/><path stroke="#fff" stroke-width="2" stroke-dasharray="2 3" d="M1242,474V576"/>
<ellipse class="s d" cx="1213" cy="602" rx="7" ry="16"/><rect class="s n l3" x="1202" y="512" width="10" height="35" rx="5"/>
<rect class="s a" x="1088" y="600" width="40" height="166"/>
<rect class="s" fill="#555" x="1088" y="700" width="38" height="25"/>
<rect class="s g" x="870" y="640" width="107" height="30"/><rect class="s g" x="977" y="637" width="90" height="37"/><rect class="s g" x="1067" y="630" width="70" height="50" rx="15"/>
<rect class="s g" x="870" y="752" width="107" height="30"/><rect class="s g" x="977" y="748" width="90" height="37"/><rect class="s g" x="1067" y="742" width="70" height="50" rx="15"/>
<!-- dots -->
<use href="#c" x="254" y="575"/><use href="#c" x="160" y="668"/><use href="#c" x="278" y="668"/><use href="#c" x="290" y="641"/><use href="#c" x="397" y="641"/><use href="#c" x="584" y="405"/><use href="#c" x="741" y="391"/><use href="#c" x="738" y="537"/><use href="#c" x="759" y="539"/><use href="#c" x="811" y="541"/><use href="#c" x="783" y="602"/><use href="#c" x="710" y="644"/><use href="#c" x="459" y="610"/><use href="#c" x="1009" y="703"/><use href="#c" x="1220" y="410"/><use href="#c" x="1309" y="423"/><use href="#c" x="1422" y="472"/><use href="#c" x="1375" y="323"/><use href="#c" x="1393" y="268"/><use href="#c" x="1255" y="270"/><use href="#c" x="1493" y="249"/>
<use href="#b" x="1073" y="708"/><use href="#b" x="1095" y="560"/><use href="#b" x="1147" y="490"/><use href="#b" x="1166" y="468"/><use href="#b" x="1267" y="450"/><use href="#b" x="1512" y="538"/><use href="#b" x="1473" y="620"/><use href="#b" x="1441" y="640"/>
</g>

<!-- Z5 -->
<g transform="translate(1500,1320) scale(.8929,.4082)">
<path class="s d l3" d="M-28,766V735L60,575H335L380,530L390,490H640V545L780,555L905,505L975,455L1085,495H1200L1285,505L1365,585V615Q1436,680 1436,766Z"/>
<path class="s n l3" d="M790,560L905,515M905,505V640L1030,690M975,455L1075,555"/>
<!-- boats side -->
<path class="s t" d="M15,165Q60,108 100,108Q160,112 190,160Q155,222 100,222Q50,222 15,165Z"/>
<path class="s" fill="#5a4a30" d="M50,165Q70,130 100,130Q150,135 160,165Q145,195 100,195Q65,195 50,165Z"/>
<path stroke="#c8ad7f" stroke-width="1.500" fill="none" d="M75,135V190M95,132V192M115,134V192M135,140V188M50,165H160"/>
<path class="s n" d="M35,80L48,165M168,75L160,130"/><ellipse class="s d" cx="35" cy="85" rx="5" ry="12"/><ellipse class="s d" cx="168" cy="75" rx="5" ry="12"/>
<g class="s" fill="#aab4c0"><rect x="1362" y="72" width="48" height="45"/><rect x="830" y="40" width="18" height="36"/><path d="M1465,58L1505,50L1512,82L1470,92Z"/></g>
<g class="s w"><ellipse cx="1372" cy="94" rx="7" ry="14"/><ellipse cx="1399" cy="94" rx="7" ry="14"/></g>
<path class="s t" d="M1530,135L1550,108L1568,105V170L1550,165Z"/>
<path class="s n" d="M1525,70L1535,135"/><ellipse class="s d" cx="1525" cy="75" rx="5" ry="12"/>
<!-- boats center -->
<path class="s t" d="M650,610Q680,555 730,552Q800,555 825,605Q800,650 740,660Q680,658 650,610Z"/>
<path class="s" fill="#7c6a48" d="M680,605H790V625L740,640L680,625Z"/>
<path stroke="#e0c898" stroke-width="2" fill="none" d="M700,590V635M720,590V638M740,590V638M760,590V632"/>
<path class="s t" d="M455,690Q480,620 560,620L660,640L690,690L660,748L560,755Q480,755 455,690Z"/>
<path class="s" fill="#8c7750" d="M485,690Q500,640 560,640Q630,640 650,690Q630,740 560,742Q500,740 485,690Z"/>
<path stroke="#e0c898" stroke-width="2" fill="none" d="M525,655V725M550,650V732M575,650V732M600,655V730M500,690H640"/>
<!-- funnel hoods -->
<path class="s a" d="M700,766Q700,725 725,700L745,710Q730,735 728,766Z"/>
<path class="s a" d="M880,650Q1030,660 1030,766H918Q915,690 860,672Z"/>
<path class="s a" d="M185,766Q185,720 215,695L235,700Q210,725 212,766Z"/>
<path class="s k" d="M212,766Q220,720 310,665L400,690V766Z"/>
<path class="s" fill="#333" d="M228,766Q235,730 320,695L385,705V766Z"/>
<path class="s k" d="M728,766Q735,710 860,672Q915,680 918,766Z"/>
<path class="s" fill="#333" d="M745,766Q755,725 860,695Q900,700 900,766Z"/>
<path stroke="#111" stroke-width="2" fill="none" d="M850,700V766M810,712V766M250,766V725M290,766V705M330,766V695"/>
<!-- mast star -->
<path class="s k" d="M395,766V590L410,545L415,640L435,680L470,625L445,725L450,766Z"/>
<path class="s k" d="M365,700L305,640L340,675L380,660L395,700Z"/>
<circle class="s k" cx="427" cy="765" r="10"/>
<!-- catapult block -->
<path class="s a" d="M445,450L470,415H860V510H720L680,550L640,530H470L445,485Z"/>
<ellipse class="s d" cx="610" cy="465" rx="32" ry="85"/><ellipse class="s a" cx="610" cy="465" rx="24" ry="70"/>
<path class="s a" d="M530,450H885V485H530Z"/><path class="s n l4" d="M580,467H885"/>
<rect class="k" x="410" y="570" width="315" height="10"/>
<!-- turrets -->
<rect class="s g" x="332" y="213" width="70" height="9"/><rect class="s g" x="400" y="208" width="55" height="22"/>
<rect class="s g" x="332" y="273" width="70" height="9"/><rect class="s g" x="400" y="268" width="55" height="22"/>
<rect class="s g" x="800" y="212" width="55" height="24"/><rect class="s g" x="855" y="219" width="70" height="9"/>
<rect class="s g" x="800" y="272" width="55" height="24"/><rect class="s g" x="855" y="279" width="70" height="9"/>
<rect class="s g" x="1050" y="220" width="52" height="24"/><rect class="s g" x="1100" y="227" width="72" height="9"/>
<rect class="s g" x="1050" y="278" width="52" height="24"/><rect class="s g" x="1100" y="285" width="72" height="9"/>
<use href="#tw" x="507" y="248"/><use href="#tw" x="748" y="252"/><use href="#tw" x="997" y="260"/>
<use href="#sm" x="297" y="421"/>
<!-- plane over turret -->
<ellipse class="s" fill="#c4c9d0" cx="430" cy="465" rx="10" ry="95"/>
<path fill="url(#lad)" stroke="#111" stroke-width="1.500" d="M490,260Q505,210 520,260V695Q505,715 490,695Z"/>
<path fill="#d22" d="M498,305L512,305L505,330ZM498,610L512,610L505,640Z"/>
<path class="s w" d="M440,465Q470,440 525,450H585L575,485H525Q470,490 440,465Z"/>
<ellipse class="s k" cx="478" cy="465" rx="8" ry="18"/>
<!-- crane base -->
<rect class="s a" x="880" y="350" width="38" height="38"/><rect class="s a" x="910" y="345" width="65" height="105"/><ellipse class="s d" cx="942" cy="400" rx="9" ry="18"/>
<path class="s n" d="M920,310V345M968,325V345M920,455V495"/>
<!-- rings + cross structures -->
<path class="s d" d="M1030,766V690L1090,620L1150,585L1195,610L1212,690V766Z"/>
<path class="s n" d="M1048,766V700L1100,640L1150,610L1185,630L1198,700V766"/>
<use href="#cr" x="1120" y="765"/><use href="#cr" x="1308" y="765"/><use href="#cr" x="110" y="765"/>
<path class="s n l3" d="M1150,575L1290,600L1365,615M1035,680L1090,620L1150,580"/>
<path class="s a" d="M1160,700L1215,570L1175,640Z"/><path class="s a" d="M1000,765L1060,745V766Z"/>
<use href="#rd" transform="translate(1240,484) scale(-1,1)"/>
<ellipse class="s d" cx="1120" cy="530" rx="30" ry="70"/><ellipse class="s" fill="#c7d0dc" cx="1120" cy="530" rx="24" ry="60"/><path class="s n" d="M1096,535H1144M1135,500V570"/>
<ellipse class="s a" cx="355" cy="570" rx="26" ry="40"/><rect class="s" fill="#ccc" x="345" y="555" width="20" height="30"/>
<ellipse class="s a" cx="768" cy="650" rx="24" ry="40"/><rect class="s" fill="#ccc" x="758" y="635" width="20" height="30"/>
<ellipse class="s a" cx="65" cy="630" rx="14" ry="25"/>
<!-- hatches -->
<g class="s" fill="#aeb4bc"><rect x="80" y="422" width="40" height="42"/><rect x="1290" y="348" width="42" height="42"/></g>
<rect class="s" fill="#555" x="178" y="545" width="45" height="28"/>
<g class="s" fill="#c8a040"><rect x="1380" y="470" width="9" height="55"/><rect x="1420" y="568" width="9" height="55"/></g>
<!-- dots -->
<use href="#c" x="252" y="177"/><use href="#c" x="285" y="183"/><use href="#c" x="405" y="165"/><use href="#c" x="613" y="139"/><use href="#c" x="31" y="250"/><use href="#c" x="270" y="254"/><use href="#c" x="349" y="250"/><use href="#c" x="137" y="340"/><use href="#c" x="364" y="387"/><use href="#c" x="214" y="492"/><use href="#c" x="846" y="164"/><use href="#c" x="880" y="164"/><use href="#c" x="1121" y="162"/><use href="#c" x="1214" y="190"/><use href="#c" x="1361" y="232"/><use href="#c" x="1532" y="251"/><use href="#c" x="1144" y="354"/><use href="#c" x="1198" y="357"/><use href="#c" x="1450" y="392"/><use href="#c" x="1068" y="438"/><use href="#c" x="1464" y="606"/>
<use href="#b" x="218" y="353"/><use href="#b" x="358" y="499"/><use href="#b" x="410" y="358"/><use href="#b" x="590" y="360"/><use href="#b" x="661" y="263"/><use href="#b" x="837" y="352"/><use href="#b" x="1091" y="355"/><use href="#b" x="1022" y="424"/><use href="#b" x="144" y="530"/><use href="#b" x="52" y="538"/><use href="#b" x="10" y="620"/>
</g>

<!-- Z6 -->
<g transform="translate(2800,1320) scale(1.148,.4337)">
<!-- boat -->
<path class="s t" d="M55,130Q85,92 120,92Q165,95 185,130Q160,168 120,168Q80,168 55,130Z"/>
<path class="s" fill="#5a4a30" d="M75,130Q95,105 120,105Q150,108 165,130Q150,155 120,155Q90,155 75,130Z"/>
<path class="s n" d="M50,70L65,130M178,85L170,115"/><ellipse class="s d" cx="178" cy="85" rx="4" ry="12"/>
<g class="s" fill="#aab4c0"><path d="M5,55L35,48L42,80L8,88Z"/></g>
<use href="#rd" transform="translate(326,243) scale(-.82,.94)"/>
<use href="#rd" transform="translate(610,317) scale(-.82,.94)"/>
<!-- T1 -->
<rect class="s a" x="12" y="668" width="8" height="52"/>
<path class="s a" d="M278,720V570Q220,470 150,445H120Q60,470 18,570V720Z"/>
<path class="s n l4" d="M18,572Q70,548 150,545Q220,545 278,570"/><path class="s n" d="M122,445V720"/>
<rect class="s n" x="85" y="465" width="38" height="80"/><rect fill="#111" x="147" y="445" width="6" height="100"/><path stroke="#fff" stroke-width="1.500" stroke-dasharray="2 3" d="M150,447V543"/>
<ellipse class="s d" cx="174" cy="568" rx="6" ry="15"/><rect class="s n l3" x="175" y="482" width="8" height="30" rx="4"/>
<rect class="s a" x="248" y="570" width="30" height="150"/><rect class="s" fill="#555" x="250" y="660" width="28" height="25"/>
<rect class="s g" x="238" y="592" width="58" height="46" rx="14"/><rect class="s g" x="296" y="598" width="74" height="34"/><rect class="s g" x="370" y="600" width="90" height="30"/>
<rect class="s g" x="238" y="697" width="58" height="46" rx="14"/><rect class="s g" x="296" y="703" width="74" height="34"/><rect class="s g" x="370" y="705" width="90" height="30"/>
<!-- T2 -->
<g transform="translate(332,0)">
<rect class="s a" x="12" y="668" width="8" height="52"/>
<path class="s a" d="M278,720V570Q220,470 150,445H120Q60,470 18,570V720Z"/>
<path class="s n l4" d="M18,572Q70,548 150,545Q220,545 278,570"/><path class="s n" d="M122,445V720"/>
<rect class="s n" x="85" y="465" width="38" height="80"/><rect fill="#111" x="147" y="445" width="6" height="100"/><path stroke="#fff" stroke-width="1.500" stroke-dasharray="2 3" d="M150,447V543"/>
<ellipse class="s d" cx="174" cy="568" rx="6" ry="15"/><rect class="s n l3" x="175" y="482" width="8" height="30" rx="4"/>
<rect class="s a" x="248" y="570" width="30" height="150"/><rect class="s" fill="#555" x="250" y="660" width="28" height="25"/>
<rect class="s g" x="238" y="592" width="58" height="46" rx="14"/><rect class="s g" x="296" y="598" width="74" height="34"/><rect class="s g" x="370" y="600" width="90" height="30"/>
<rect class="s g" x="238" y="697" width="58" height="46" rx="14"/><rect class="s g" x="296" y="703" width="74" height="34"/><rect class="s g" x="370" y="705" width="90" height="30"/>
</g>
<!-- dots wood -->
<use href="#c" x="59" y="237"/><use href="#c" x="137" y="290"/><use href="#c" x="278" y="338"/><use href="#c" x="255" y="372"/><use href="#c" x="288" y="403"/><use href="#c" x="372" y="413"/><use href="#c" x="414" y="405"/><use href="#c" x="474" y="373"/><use href="#c" x="568" y="341"/><use href="#c" x="544" y="318"/><use href="#c" x="564" y="440"/><use href="#c" x="683" y="479"/><use href="#c" x="307" y="472"/><use href="#c" x="322" y="550"/><use href="#c" x="659" y="568"/><use href="#c" x="645" y="672"/><use href="#c" x="5" y="570"/>
<use href="#b" x="181" y="416"/><use href="#b" x="524" y="415"/><use href="#b" x="275" y="530"/><use href="#b" x="593" y="510"/><use href="#b" x="290" y="663"/><use href="#b" x="627" y="672"/>
<rect class="s" fill="#c8a040" x="342" y="458" width="7" height="52"/>
<rect class="s" fill="#c8a040" x="712" y="660" width="7" height="60"/>
<!-- quarterdeck -->
<g class="s" fill="#8a919c"><rect x="808" y="272" width="38" height="55" transform="rotate(15 827 300)"/><rect x="1040" y="390" width="38" height="55" transform="rotate(15 1059 417)"/></g>
<g class="s w"><ellipse cx="817" cy="297" rx="6" ry="14"/><ellipse cx="837" cy="302" rx="6" ry="14"/><ellipse cx="1049" cy="412" rx="6" ry="14"/><ellipse cx="1069" cy="420" rx="6" ry="14"/></g>
<g class="s" fill="#aab4c0"><path d="M880,285L905,280L917,312L890,325Z"/><path d="M1095,395L1125,398L1132,430L1105,442Z"/><path d="M1440,590L1465,585L1478,625L1448,640Z"/></g>
<g class="s" fill="#aab4c0"><ellipse cx="937" cy="602" rx="18" ry="38"/></g><ellipse class="s d" cx="937" cy="602" rx="12" ry="26"/><ellipse class="s w" cx="937" cy="602" rx="6" ry="14"/>
<path stroke="#111" stroke-width="11" fill="none" d="M1080,580L1300,560M1080,610L1170,650"/><path stroke="#777" stroke-width="5" fill="none" d="M1080,580L1300,560M1080,610L1170,650"/>
<ellipse class="s" fill="#aab4c0" cx="1063" cy="602" rx="20" ry="40"/><ellipse class="s w" cx="1063" cy="602" rx="8" ry="18"/>
<ellipse class="s w" cx="1037" cy="610" rx="5" ry="13"/>
<ellipse class="s" fill="#aab4c0" cx="1177" cy="655" rx="11" ry="27"/><ellipse class="s w" cx="1177" cy="655" rx="5" ry="13"/>
<ellipse class="s" fill="#aab4c0" cx="1177" cy="718" rx="11" ry="27"/>
<rect class="s" fill="#8a919c" x="1207" y="662" width="57" height="58"/><rect class="s n" x="1214" y="672" width="43" height="48"/>
<ellipse class="s n" cx="1235" cy="720" rx="17" ry="40"/><ellipse class="s n" cx="1235" cy="720" rx="10" ry="24"/><ellipse class="s k" cx="1235" cy="720" rx="4" ry="9"/>
<rect class="s" fill="#8a919c" x="1377" y="695" width="38" height="25"/>
<ellipse class="s w" cx="1385" cy="718" rx="6" ry="14"/><ellipse class="s w" cx="1406" cy="718" rx="6" ry="14"/>
<rect class="s" fill="#8a919c" x="1170" y="598" width="14" height="20"/><rect class="s" fill="#8a919c" x="1260" y="622" width="16" height="14"/>
<!-- anchors -->
<path class="s" fill="#ccc" d="M1310,525L1340,490L1345,545L1325,585L1305,570Z"/><path class="s n l3" d="M1315,520Q1345,545 1320,578"/>
<!-- dots quarter -->
<use href="#c" x="795" y="350"/><use href="#c" x="764" y="480"/><use href="#c" x="913" y="478"/><use href="#c" x="1130" y="478"/><use href="#c" x="994" y="532"/><use href="#c" x="950" y="552"/><use href="#c" x="831" y="632"/><use href="#c" x="1363" y="618"/><use href="#c" x="1287" y="630"/><use href="#c" x="1318" y="675"/><use href="#c" x="1422" y="675"/><use href="#c" x="1195" y="686"/><use href="#c" x="1277" y="708"/>
<rect class="s" fill="#9aa1ab" x="815" y="518" width="32" height="40"/>
<path class="s n" d="M1155,545L1175,565M1222,538L1245,565M1260,605L1285,590M1192,605L1212,590"/>
</g>
</g>
<use href="#half" transform="matrix(1 0 0 -1 0 3264.6)"/>

<!-- asymmetrical plan items -->
<g transform="translate(100,1320) scale(.9566,.4082)">
<path stroke="#111" stroke-width="11" fill="none" d="M105,768L420,668M365,752L420,702"/><path stroke="#777" stroke-width="4" fill="none" d="M105,768L420,668M365,752L420,702"/>
<ellipse class="s d" cx="92" cy="765" rx="17" ry="27"/><ellipse class="k" cx="92" cy="765" rx="11" ry="18"/>
<ellipse class="s d" cx="433" cy="678" rx="20" ry="40"/><ellipse class="s w" cx="430" cy="678" rx="11" ry="24"/><ellipse class="s n" cx="430" cy="678" rx="5" ry="12"/>
<ellipse class="s" fill="#aab4c0" cx="360" cy="765" rx="11" ry="27"/><ellipse class="s w" cx="360" cy="765" rx="5" ry="13"/>
<use href="#c" x="298" y="757"/>
<path class="s n l4" d="M14,765H50M36,755L40,775"/>
</g>
<g transform="translate(2800,1320) scale(1.148,.4337)">
<!-- red star -->
<polygon fill="#fff" points="993,720 897,660 905,403 855,597 767,522 833,720 767,918 855,843 905,1037 897,780"/>
<polygon fill="#c00000" points="960,720 895,668 897,490 858,625 795,580 820,720 795,860 858,815 897,950 895,772"/>
<use href="#c" x="831" y="632"/><use href="#c" x="825" y="817"/>
<path stroke="#111" stroke-width="11" fill="none" d="M1075,805H1170M1085,775L1170,718M1135,855L1235,925"/><path stroke="#777" stroke-width="5" fill="none" d="M1075,805H1170M1085,775L1170,718M1135,855L1235,925"/>
<path class="s" fill="#ccc" d="M1235,935L1260,920L1270,985L1255,1018L1235,990Z"/><path class="s n l3" d="M1240,950Q1270,985 1245,1005"/>
<path class="s n l3" d="M1495,700L1505,720L1495,740"/>
<path stroke="#a81c00" stroke-width="3" fill="none" d="M1510,690Q1515,720 1510,750"/>
</g>
<path style="stroke:#111;stroke-width:9" fill="none" d="M138,1632L143,1615 157,1602 196,1577 291,1542 387,1512 578,1469 770,1428 913,1406 1057,1387 1152,1379 1315,1365 1600,1351 1643,1349 2036,1340 2393,1340 2821,1347 2857,1350 3236,1372 3466,1392 3644,1422 4063,1498 4292,1550 4338,1558 4379,1564 4465,1580 4510,1602 4534,1632 4510,1663 4465,1685 4379,1701 4338,1707 4292,1715 4063,1767 3644,1843 3466,1873 3236,1893 2857,1915 2821,1918 2393,1925 2036,1925 1643,1916 1600,1914 1315,1900 1152,1886 1057,1878 913,1859 770,1837 578,1796 387,1753 291,1723 196,1688 157,1663 143,1650Z"/>
<path fill="none" stroke="#a0a8b3" stroke-width="3.500" d="M138,1632L143,1615 157,1602 196,1577 291,1542 387,1512 578,1469 770,1428 913,1406 1057,1387 1152,1379 1315,1365 1600,1351 1643,1349 2036,1340 2393,1340 2821,1347 2857,1350 3236,1372 3466,1392 3644,1422 4063,1498 4292,1550 4338,1558 4379,1564 4465,1580 4510,1602 4534,1632 4510,1663 4465,1685 4379,1701 4338,1707 4292,1715 4063,1767 3644,1843 3466,1873 3236,1893 2857,1915 2821,1918 2393,1925 2036,1925 1643,1916 1600,1914 1315,1900 1152,1886 1057,1878 913,1859 770,1837 578,1796 387,1753 291,1723 196,1688 157,1663 143,1650Z"/>

<!-- scale -->
<g fill="#111">
<rect x="4210" y="1897" width="36" height="6"/><rect x="4281" y="1897" width="36" height="6"/><rect x="4351" y="1897" width="36" height="6"/>
<rect x="4211" y="1903" width="1" height="7"/><rect x="4245" y="1903" width="1" height="7"/><rect x="4263" y="1905" width="1" height="5"/><rect x="4281" y="1903" width="1" height="7"/><rect x="4333" y="1905" width="1" height="5"/><rect x="4351" y="1903" width="1" height="7"/>
</g>
<text x="4208" y="1925" font-size="11" textLength="198" lengthAdjust="spacing">0 1 2 3 4 5 6 7 8 9 10m</text>
<rect x="4437" y="1883" width="125" height="49" fill="#fff" stroke="#111" stroke-width="5"/>
<text x="4446" y="1921" font-size="40" textLength="108" lengthAdjust="spacingAndGlyphs">TZoLI</text>
</svg>
</body></html>
